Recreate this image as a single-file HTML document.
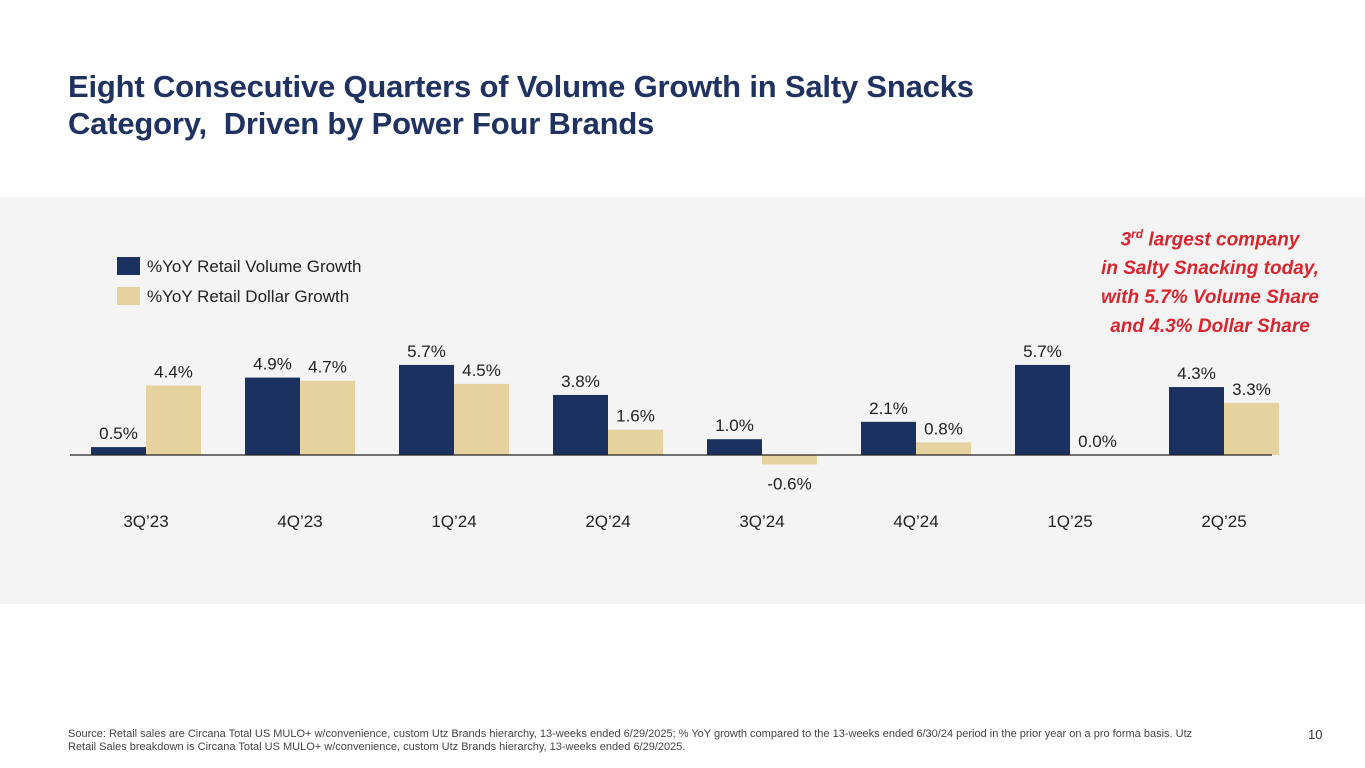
<!DOCTYPE html>
<html><head><meta charset="utf-8"><style>
body{margin:0;width:1365px;height:768px;background:#fff;font-family:"Liberation Sans",sans-serif;position:relative;overflow:hidden}
.t{position:absolute;left:68px;top:68px;font-size:31px;font-weight:bold;color:#1f3262;line-height:37px;letter-spacing:-0.2px}
.panel{position:absolute;left:0;top:197px;width:1365px;height:407px;background:#f4f4f4}
.callout{position:absolute;left:1060px;top:220px;width:300px;text-align:center;color:#d9262e;font-weight:bold;font-style:italic;font-size:19px;line-height:29px}
.src{position:absolute;left:68px;top:728px;font-size:11px;color:#444;line-height:13px;width:1200px;white-space:nowrap}
.pg{position:absolute;left:1308px;top:727px;font-size:13px;color:#333}
</style></head><body>
<div class="t">Eight Consecutive Quarters of Volume Growth in Salty Snacks<br>Category,&nbsp; Driven by Power Four Brands</div>
<div class="panel"></div>
<div class="callout">3<sup style="font-size:12px">rd</sup> largest company<br>in Salty Snacking today,<br>with 5.7% Volume Share<br>and 4.3% Dollar Share</div>
<svg id="c" width="1365" height="768" style="position:absolute;left:0;top:0"></svg>
<div class="src">Source: Retail sales are Circana Total US MULO+ w/convenience, custom Utz Brands hierarchy, 13-weeks ended 6/29/2025; % YoY growth compared to the 13-weeks ended 6/30/24 period in the prior year on a pro forma basis. Utz<br>Retail Sales breakdown is Circana Total US MULO+ w/convenience, custom Utz Brands hierarchy, 13-weeks ended 6/29/2025.</div>
<div class="pg">10</div>
<script>
const categories=["3Q’23","4Q’23","1Q’24","2Q’24","3Q’24","4Q’24","1Q’25","2Q’25"];
const volume=[0.5,4.9,5.7,3.8,1.0,2.1,5.7,4.3];
const dollar=[4.4,4.7,4.5,1.6,-0.6,0.8,0.0,3.3];
const NS="http://www.w3.org/2000/svg";
const svg=document.getElementById('c');
const base=455,scale=15.8,x0=91,step=154,bw=55;
const y=v=>base-v*scale;
function el(t,a){const e=document.createElementNS(NS,t);for(const k in a)e.setAttribute(k,a[k]);svg.appendChild(e);return e;}
function txt(x,yy,s,name,size,anchor){const e=el('text',{x:x,y:yy,'font-size':size||17,'text-anchor':anchor||'middle',fill:'#222','font-family':'Liberation Sans, sans-serif'});e.textContent=s;


return e;}
const fmt=v=>v.toFixed(1)+'%';
categories.forEach((c,i)=>{
  const xv=x0+i*step,xd=xv+bw;
  [[volume[i],xv,'#1b3160','volume'],[dollar[i],xd,'#e6d29f','dollar']].forEach(([v,x,col,s])=>{
    const top=Math.min(y(v),base),h=Math.abs(y(v)-base);
    const r=el('rect',{x:x,y:top,width:bw,height:Math.max(h,0),fill:col});
    
    
    const ly=v<0?y(v)+25:y(v)-8;
    txt(x+bw/2,ly,fmt(v),'value-label-'+s+'-'+i);
  });
  txt(xv+bw,527,c,'category-label-'+i,17);
});
const ax=el('line',{x1:70,x2:1272,y1:base,y2:base,stroke:'#222','stroke-width':1.3});


[['#1b3160','%YoY Retail Volume Growth',257],['#e6d29f','%YoY Retail Dollar Growth',287]].forEach(([c,l,yy],i)=>{
  const r=el('rect',{x:117,y:yy,width:23,height:18,fill:c});
  
  
  txt(147,yy+15,l,'legend-label-'+i,17,'start');
});
</script>
</body></html>
